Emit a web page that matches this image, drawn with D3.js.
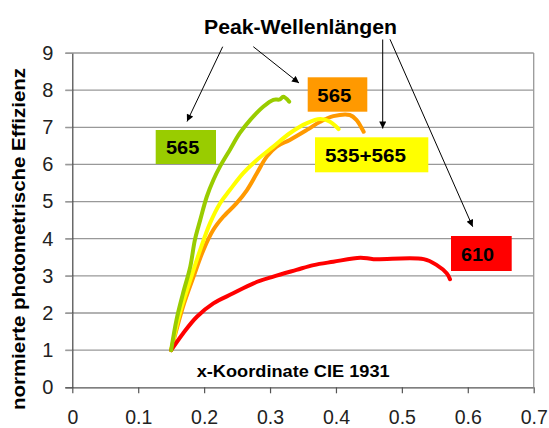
<!DOCTYPE html>
<html>
<head>
<meta charset="utf-8">
<script src="https://cdn.jsdelivr.net/npm/d3@7"></script>
<style>
  html, body { margin: 0; padding: 0; background: #fff; }
  svg { display: block; }
  text { font-family: "Liberation Sans", Arial, sans-serif; }
</style>
</head>
<body>
<svg id="chart" width="549" height="428"></svg>
<script>
// Efficiency curves: x chromaticity coordinate (CIE 1931) vs. normalised photometric efficiency
const green565X = [0.150, 0.158, 0.168, 0.179, 0.186, 0.194, 0.204, 0.214, 0.224, 0.239, 0.254, 0.270, 0.290, 0.305, 0.315, 0.320, 0.329];
const green565Y = [1.00, 1.81, 2.53, 3.25, 3.97, 4.50, 5.13, 5.58, 5.94, 6.39, 6.84, 7.20, 7.56, 7.74, 7.75, 7.82, 7.69];

const yellowMixX = [0.150, 0.163, 0.179, 0.194, 0.209, 0.224, 0.239, 0.259, 0.280, 0.305, 0.330, 0.356, 0.376, 0.391, 0.404];
const yellowMixY = [1.00, 1.99, 2.89, 3.70, 4.42, 4.95, 5.31, 5.76, 6.12, 6.48, 6.84, 7.11, 7.22, 7.15, 6.95];

const orange565X = [0.150, 0.168, 0.184, 0.199, 0.214, 0.229, 0.249, 0.265, 0.280, 0.295, 0.310, 0.330, 0.356, 0.376, 0.396, 0.421, 0.431, 0.442];
const orange565Y = [1.00, 2.17, 2.98, 3.70, 4.24, 4.59, 4.95, 5.31, 5.76, 6.21, 6.48, 6.66, 6.93, 7.15, 7.30, 7.33, 7.20, 6.88];

const red610X = [0.150, 0.168, 0.189, 0.214, 0.244, 0.275, 0.305, 0.340, 0.366, 0.396, 0.437, 0.457, 0.533, 0.553, 0.568, 0.573];
const red610Y = [1.00, 1.45, 1.90, 2.26, 2.53, 2.80, 2.98, 3.16, 3.29, 3.38, 3.49, 3.45, 3.45, 3.29, 3.07, 2.91];

const xTicks = [0, 0.1, 0.2, 0.3, 0.4, 0.5, 0.6, 0.7];
const yTicks = [0, 1, 2, 3, 4, 5, 6, 7, 8, 9];

const seriesNames = ["565", "565", "535+565", "610"];

const svg = d3.select("#chart");
const plot = { left: 72.3, right: 533.7, top: 53, bottom: 387.3 };

const x = d3.scaleLinear().domain([0, 0.7]).range([plot.left, plot.right]);
const y = d3.scaleLinear().domain([0, 9]).range([plot.bottom, plot.top]);

// horizontal grid lines (with short tick stubs left of the axis)
svg.append("g")
  .selectAll("line")
  .data(yTicks.filter(d => d > 0))
  .join("line")
  .attr("x1", plot.left - 7).attr("x2", plot.right)
  .attr("y1", d => y(d)).attr("y2", d => y(d))
  .attr("stroke", "#999").attr("stroke-width", 1.3);

// right frame edge
svg.append("line")
  .attr("x1", plot.right).attr("x2", plot.right)
  .attr("y1", plot.top).attr("y2", plot.bottom)
  .attr("stroke", "#999").attr("stroke-width", 1.3);

// x axis
const xAxis = svg.append("g")
  .attr("transform", `translate(0,${plot.bottom})`)
  .call(d3.axisBottom(x).tickValues(xTicks).tickFormat(d => d === 0 ? "0" : d3.format(".1f")(d))
    .tickSizeInner(6).tickSizeOuter(0).tickPadding(17));
xAxis.select(".domain").attr("d", `M${plot.left - 7},0.5H${plot.right}`).attr("stroke", "#555").attr("stroke-width", 1.2);
xAxis.selectAll(".tick line").attr("stroke", "#555").attr("stroke-width", 1.2);
xAxis.selectAll("text").attr("font-size", 19.5).attr("fill", "#222")
  .attr("font-family", "'Liberation Sans', Arial, sans-serif");

// y axis
const yAxis = svg.append("g")
  .attr("transform", `translate(${plot.left},0)`)
  .call(d3.axisLeft(y).tickValues(yTicks).tickSizeInner(7).tickSizeOuter(0).tickPadding(12));
yAxis.select(".domain").attr("stroke", "#444").attr("stroke-width", 1.2);
yAxis.selectAll(".tick line").attr("stroke", d => d === 0 ? "#555" : "#999");
yAxis.selectAll("text").attr("font-size", 20).attr("fill", "#222")
  .attr("font-family", "'Liberation Sans', Arial, sans-serif");

// curves
const line = d3.line()
  .x(d => x(d[0])).y(d => y(d[1]))
  .curve(d3.curveCatmullRom.alpha(0.5));

const curves = [
  { xs: orange565X, ys: orange565Y, color: "#ff9900" },
  { xs: yellowMixX, ys: yellowMixY, color: "#ffff00" },
  { xs: red610X, ys: red610Y, color: "#ff0000" },
  { xs: green565X, ys: green565Y, color: "#99cc00" }
];

svg.append("g")
  .selectAll("path")
  .data(curves)
  .join("path")
  .attr("d", c => line(c.xs.map((v, i) => [v, c.ys[i]])))
  .attr("fill", "none")
  .attr("stroke", c => c.color)
  .attr("stroke-width", 4)
  .attr("stroke-linecap", "round")
  .attr("stroke-linejoin", "round");

// axis titles
svg.append("text")
  .attr("x", 196.7).attr("y", 377)
  .attr("textLength", 193).attr("lengthAdjust", "spacingAndGlyphs")
  .attr("font-size", 17).attr("font-weight", "bold").attr("fill", "#000")
  .text("x-Koordinate CIE 1931");

svg.append("text")
  .attr("transform", "translate(24.5,410) rotate(-90)")
  .attr("textLength", 342).attr("lengthAdjust", "spacingAndGlyphs")
  .attr("font-size", 18).attr("font-weight", "bold").attr("fill", "#000")
  .text("normierte photometrische Effizienz");

// arrows from the heading to each label
const defs = svg.append("defs");
defs.append("marker")
  .attr("id", "arrowhead")
  .attr("viewBox", "0 0 10 10")
  .attr("refX", 10).attr("refY", 5)
  .attr("markerWidth", 9).attr("markerHeight", 7)
  .attr("markerUnits", "userSpaceOnUse")
  .attr("orient", "auto")
  .append("path").attr("d", "M0,0L10,5L0,10Z").attr("fill", "#000");

const arrows = [
  { from: [222.7, 46.7], to: [187, 121.5] },
  { from: [253.3, 46.7], to: [299, 83] },
  { from: [382.7, 39.5], to: [382.7, 128.5] },
  { from: [390, 39.3], to: [472.7, 226.7] }
];
svg.append("g")
  .selectAll("line")
  .data(arrows)
  .join("line")
  .attr("x1", d => d.from[0]).attr("y1", d => d.from[1])
  .attr("x2", d => d.to[0]).attr("y2", d => d.to[1])
  .attr("stroke", "#000").attr("stroke-width", 1)
  .attr("marker-end", "url(#arrowhead)");

svg.append("text")
  .attr("x", 204).attr("y", 33.5)
  .attr("textLength", 193).attr("lengthAdjust", "spacingAndGlyphs")
  .attr("font-size", 19.5).attr("font-weight", "bold").attr("fill", "#000")
  .text("Peak-Wellenlängen");

// coloured labels naming the peak wavelengths
const labels = [
  { text: seriesNames[0], color: "#99cc00", box: [155.7, 130, 60.3, 34], tx: 10.3, tw: 33.3 },
  { text: seriesNames[1], color: "#ff9900", box: [307.7, 77.3, 59.6, 34.4], tx: 9.6, tw: 34 },
  { text: seriesNames[2], color: "#ffff00", box: [315, 137.3, 113.3, 35], tx: 10, tw: 81 },
  { text: seriesNames[3], color: "#ff0000", box: [451, 236, 60.7, 35], tx: 10, tw: 33 }
];
const lg = svg.append("g")
  .selectAll("g")
  .data(labels)
  .join("g")
  .attr("transform", d => `translate(${d.box[0]},${d.box[1]})`);
lg.append("rect")
  .attr("width", d => d.box[2]).attr("height", d => d.box[3])
  .attr("fill", d => d.color);
lg.append("text")
  .attr("x", d => d.tx).attr("y", d => d.box[3] * 0.71)
  .attr("textLength", d => d.tw).attr("lengthAdjust", "spacingAndGlyphs")
  .attr("font-size", 19).attr("font-weight", "bold").attr("fill", "#000")
  .text(d => d.text);
</script>
</body>
</html>
